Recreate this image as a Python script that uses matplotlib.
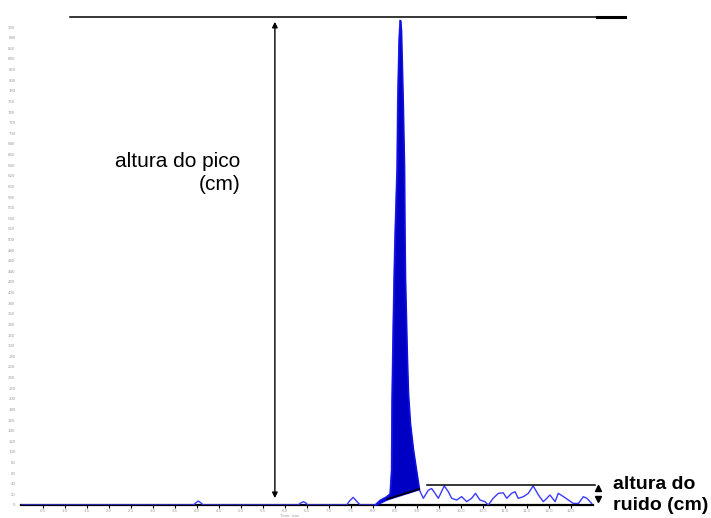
import numpy as np
import matplotlib
matplotlib.use("Agg")
import matplotlib.pyplot as plt

plt.rcParams['font.family'] = ['Liberation Sans', 'DejaVu Sans']

# ---- data (time in min, detector response) ----
pre_t = [0.0, 3.92, 3.97, 4.03, 4.09, 4.14, 6.30, 6.36, 6.42, 6.47, 6.52,
         7.40, 7.47, 7.55, 7.63, 7.71, 8.045]
pre_v = [0, 0, 4, 7.5, 4, 0, 0, 4, 6.3, 4, 0,
         0, 8, 14.4, 7, 0, 0]

peak_t = [8.045, 8.16, 8.295, 8.386, 8.42, 8.43, 8.455, 8.477, 8.50, 8.545,
          8.56, 8.59, 8.614, 8.636, 8.675, 8.705, 8.716, 8.727, 8.75, 8.77,
          8.795, 8.84, 8.91, 8.99, 9.045]
peak_v = [0, 9, 15, 21, 66, 198, 330, 429, 512, 637,
          763, 876, 913, 895, 763, 637, 512, 429, 348, 279,
          211, 154, 104, 60, 30]

noise_t = [9.144, 9.258, 9.333, 9.41, 9.485, 9.62, 9.712, 9.788, 9.90, 10.015,
           10.13, 10.24, 10.33, 10.43, 10.545, 10.62, 10.73, 10.85, 10.96, 11.04,
           11.15, 11.23, 11.30, 11.42, 11.53, 11.64, 11.76, 11.87, 11.95, 12.02,
           12.14, 12.21, 12.33, 12.44, 12.55, 12.67, 12.78, 12.86, 12.97]
noise_v = [12.6, 28, 31, 22, 12.6, 36, 25, 12.6, 9.4, 15.7,
           6.3, 12.6, 22, 9.4, 6.3, 0, 12.6, 22, 23, 12.6,
           22, 25, 12.6, 15.7, 22, 36, 18.8, 6.3, 12.6, 18.8,
           6.3, 22, 15.7, 9.4, 3, 3, 15.7, 12.6, 3]

base_t = [8.045, 8.318, 9.045]
base_v = [0, 11, 30]

noise_level = 37.7
peak_height = 913

x_ticks = np.arange(0.5, 12.51, 0.5)
x_tick_labels = [f"{v:.1f}" for v in x_ticks]
y_ticks = np.arange(0, 901, 20)
y_tick_labels = [str(v) for v in y_ticks]

# ---- figure ----
fig = plt.figure(figsize=(7.11, 5.18), dpi=100)
W, H = 711, 518
ax = fig.add_axes([21 / W, 13 / H, (593 - 21) / W, (505 - 16.5) / H])
ax.set_xlim(0, 13.0)
ax.set_ylim(0, 920)

all_t = pre_t + peak_t[1:] + noise_t
all_v = pre_v + peak_v[1:] + noise_v
ax.plot(all_t, all_v, color='#3a3aff', lw=1.0, zorder=3, solid_joinstyle='round')

pt = np.array(peak_t)
pb = np.interp(pt, base_t, base_v)
ax.fill_between(pt, peak_v, pb, color='#0000c4', lw=1.2, edgecolor='#1010e0', zorder=4)
ax.plot(base_t[1:], base_v[1:], color='black', lw=1.2, zorder=5)

for s in ['top', 'right', 'left']:
    ax.spines[s].set_visible(False)
ax.spines['bottom'].set_linewidth(1.6)

ax.set_xticks(x_ticks)
ax.set_xticklabels(x_tick_labels, fontsize=3.2, color='#a0a0a0')
ax.set_yticks(y_ticks)
ax.set_yticklabels(y_tick_labels, fontsize=3.2, color='#a0a0a0')
ax.tick_params(axis='x', length=2, width=0.8, pad=1, colors='black', labelcolor='#a0a0a0')
ax.tick_params(axis='y', length=0, pad=4)
ax.set_xlabel('Time, min', fontsize=3.2, color='#a0a0a0')
ax.xaxis.set_label_coords(0.47, -0.017)

# ---- annotations ----
# top reference line
ax.plot([1.11, 13.09], [919, 919], color='black', lw=1.1, clip_on=False, zorder=6)
ax.plot([13.09, 13.73], [919, 919], color='black', lw=2.2, clip_on=False, zorder=6)

# peak height double arrow
ax.annotate('', xy=(5.77, 910), xytext=(5.77, 13),
            arrowprops=dict(arrowstyle='<|-|>', color='black', lw=1.0,
                            mutation_scale=8, shrinkA=0, shrinkB=0))
ax.text(4.98, 625, 'altura do pico\n(cm)', ha='right', va='center',
        fontsize=15, linespacing=1.3, color='black')

# noise level line
ax.plot([9.23, 13.05], [noise_level, noise_level], color='black', lw=1.1,
        clip_on=False, zorder=6)
ax.plot([13.11], [32], marker='^', color='black', ms=4, clip_on=False, zorder=6)
ax.plot([13.11], [11], marker='v', color='black', ms=4, clip_on=False, zorder=6)
ax.text(13.45, 19, 'altura do\nruido (cm)', ha='left', va='center',
        fontsize=14, fontweight='bold', linespacing=1.25, color='black')

fig.savefig('out.png', dpi=100)
